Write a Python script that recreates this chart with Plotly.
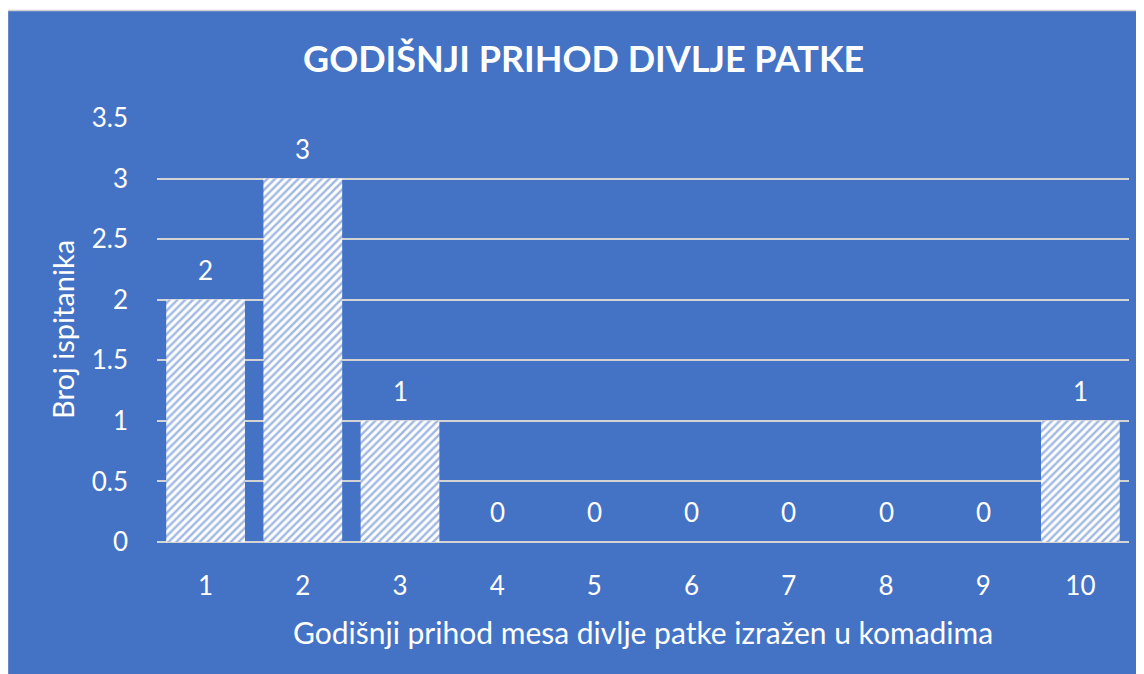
import plotly.graph_objects as go

categories = ["1", "2", "3", "4", "5", "6", "7", "8", "9", "10"]
values = [2, 3, 1, 0, 0, 0, 0, 0, 0, 1]
y_ticks = [0, 0.5, 1, 1.5, 2, 2.5, 3, 3.5]
y_tick_text = ["0", "0.5", "1", "1.5", "2", "2.5", "3", "3.5"]

title_text = "GODIŠNJI PRIHOD DIVLJE PATKE"
x_title = "Godišnji prihod mesa divlje patke izražen u komadima"
y_title = "Broj ispitanika"

BLUE = "#4472C4"
FONT = "Lato"

OFF = 8  # page body margin
W, H = 1144 - OFF, 674 - OFF
# page-pixel layout of plot area
PL, PR, PT, PB = 157, 1129, 118, 542
ML, MR, MT, MB = PL - OFF, W - (PR - OFF), PT - OFF, H - (PB - OFF)
PW, PH = PR - PL, PB - PT


def px_x(p):
    return (p - PL) / PW


def px_y(p):
    return (PB - p) / PH


fig = go.Figure()
fig.add_trace(go.Bar(
    x=categories,
    y=values,
    width=0.81,
    marker=dict(
        color="white",
        line=dict(width=0),
        pattern=dict(shape="/", fgcolor=BLUE, bgcolor="white", size=5.5, solidity=0.45),
    ),
    hoverinfo="skip",
))

annotations = []
for i, v in enumerate(values):
    annotations.append(dict(
        x=i, y=v, xref="x", yref="y", text=str(v), showarrow=False,
        yshift=30, font=dict(family=FONT, size=26, color="white"),
    ))

annotations.append(dict(
    x=px_x(583), y=px_y(58), xref="paper", yref="paper", text="<b>" + title_text + "</b>",
    showarrow=False, xanchor="center", yanchor="middle",
    font=dict(family=FONT, size=36, color="white"),
))
annotations.append(dict(
    x=px_x(643), y=px_y(632), xref="paper", yref="paper", text=x_title,
    showarrow=False, xanchor="center", yanchor="middle",
    font=dict(family=FONT, size=30, color="white"),
))
annotations.append(dict(
    x=px_x(62), y=px_y(330), xref="paper", yref="paper", text=y_title,
    showarrow=False, xanchor="center", yanchor="middle", textangle=-90,
    font=dict(family=FONT, size=29, color="white"),
))

shapes = [dict(
    type="rect", xref="paper", yref="paper",
    x0=px_x(OFF - 0.5), x1=px_x(1160), y0=px_y(700), y1=px_y(10.5),
    fillcolor=BLUE, line=dict(color="#D0D0D0", width=1.5), layer="below",
)]

fig.update_layout(
    width=W, height=H,
    margin=dict(l=ML, r=MR, t=MT, b=MB, pad=0),
    paper_bgcolor="white",
    plot_bgcolor="rgba(0,0,0,0)",
    showlegend=False,
    annotations=annotations,
    shapes=shapes,
    xaxis=dict(
        type="category", range=[-0.5, 9.5], showgrid=False, zeroline=False,
        showline=False, ticks="", ticklabelstandoff=26,
        tickfont=dict(family=FONT, size=26, color="white"),
    ),
    yaxis=dict(
        range=[0, 3.5], tickvals=y_ticks, ticktext=y_tick_text,
        showgrid=True, gridcolor="#D4D4D4", gridwidth=1.5,
        zeroline=True, zerolinecolor="#D4D4D4", zerolinewidth=1.5,
        showline=False, ticks="", ticklabelstandoff=28,
        tickfont=dict(family=FONT, size=26, color="white"),
    ),
)

fig.write_html("out.html")
